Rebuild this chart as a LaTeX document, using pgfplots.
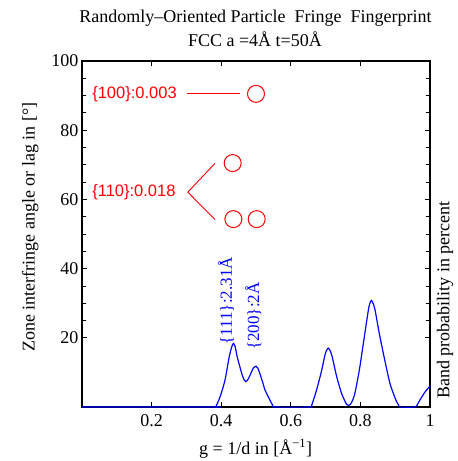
\documentclass[border=0pt]{standalone}
\usepackage{pgfplots}
\pgfplotsset{compat=1.18}
\usepackage{fontspec}
\setmainfont{Liberation Serif}
\newfontfamily\arialfont{Liberation Sans}

\newcommand{\labelsize}{\fontsize{18bp}{21bp}\selectfont}

% band probability curve, g in 1/A, percent
\pgfplotstableread{
g     p
0     0
0.380 0
0.385 0.2
0.397 3.0
0.411 7.8
0.423 14.5
0.430 17.3
0.435 18.4
0.440 17.5
0.446 14.5
0.459 9.7
0.466 7.8
0.471 7.3
0.476 7.8
0.483 9.2
0.492 11.2
0.500 11.8
0.505 11.3
0.511 9.7
0.519 7.2
0.526 4.9
0.540 2.0
0.548 0.5
0.552 0
0.655 0
0.660 0.5
0.674 4.9
0.689 10.7
0.698 15.0
0.704 16.6
0.708 17.0
0.713 16.3
0.719 14.5
0.732 8.7
0.746 3.9
0.760 0.8
0.765 0.5
0.770 0.6
0.777 1.8
0.784 3.9
0.797 10.7
0.810 19.4
0.823 28.1
0.828 30.2
0.832 30.8
0.837 29.8
0.842 28.1
0.854 21.4
0.868 14.5
0.885 6.8
0.902 2.0
0.910 0.5
0.914 0
0.957 0
0.964 0.8
0.971 2.0
0.986 4.4
0.998 5.8
1.000 6.0
}\bandtable

\begin{document}
\begin{tikzpicture}
\begin{axis}[
    scale only axis,
    width=348bp, height=346bp,
    xmin=0, xmax=1,
    ymin=0, ymax=100,
    xtick={0.2,0.4,0.6,0.8,1},
    xticklabels={0.2,0.4,0.6,0.8,1},
    ytick={20,40,60,80,100},
    yticklabels={20,40,60,80,100},
    minor y tick num=3,
    tick align=inside,
    major tick length=5bp,
    minor tick length=4bp,
    axis line style={line width=1.1pt},
    every tick/.style={black, line width=0.8pt},
    tick label style={font=\labelsize},
    xticklabel style={yshift=-4bp},
    clip=false,
]

\addplot[blue, line width=1.2pt, smooth, tension=0.4] table[x=g, y=p] {\bandtable};

\addplot[only marks, red, mark=o, mark size=8.5bp, line width=1pt]
    coordinates {(0.500,90.5) (0.433,70.5) (0.435,54.3) (0.502,54.3)};

\draw[red, line width=0.9pt] (axis cs:0.301,90.5) -- (axis cs:0.454,90.5);
\draw[red, line width=0.9pt] (axis cs:0.382,70.4) -- (axis cs:0.304,62.1) -- (axis cs:0.382,54.2);

\node[anchor=west, inner sep=0, text=red, font=\arialfont\fontsize{16.5bp}{18bp}\selectfont]
    at (axis cs:0.029,90.5) {\{100\}:0.003};
\node[anchor=west, inner sep=0, text=red, font=\arialfont\fontsize{16.5bp}{18bp}\selectfont]
    at (axis cs:0.029,62.1) {\{110\}:0.018};

\node[rotate=90, anchor=west, inner sep=0, text=blue, font=\fontsize{17bp}{19bp}\selectfont]
    at (axis cs:0.414,18.0) {\{111\}:2.31Å};
\node[rotate=90, anchor=west, inner sep=0, text=blue, font=\fontsize{17bp}{19bp}\selectfont]
    at (axis cs:0.492,16.5) {\{200\}:2Å};

% titles and axis labels
\node[anchor=base, inner sep=0, font=\labelsize] at (axis cs:0.4985,111.0)
    {Randomly--Oriented Particle\ \ Fringe\ \ Fingerprint};
\node[anchor=base, inner sep=0, font=\labelsize] at (axis cs:0.497,104.1)
    {FCC a =4Å t=50Å};
\node[anchor=base, inner sep=0, font=\labelsize] at (axis cs:0.499,-13.6)
    {g = 1/d in [Å\textsuperscript{−1}]};
\node[rotate=90, inner sep=0, font=\labelsize] at (axis cs:-0.149,52.0)
    {Zone interfringe angle or lag in [°]};
\node[rotate=90, inner sep=0, font=\labelsize] at (axis cs:1.043,30.9)
    {Band probability in percent};

\coordinate (bl) at (rel axis cs:0,0);
\coordinate (tr) at (rel axis cs:1,1);
\end{axis}
\pgfresetboundingbox
\path ([shift={(-82bp,-54bp)}]bl) rectangle ([shift={(28bp,61bp)}]tr);
\end{tikzpicture}
\end{document}
